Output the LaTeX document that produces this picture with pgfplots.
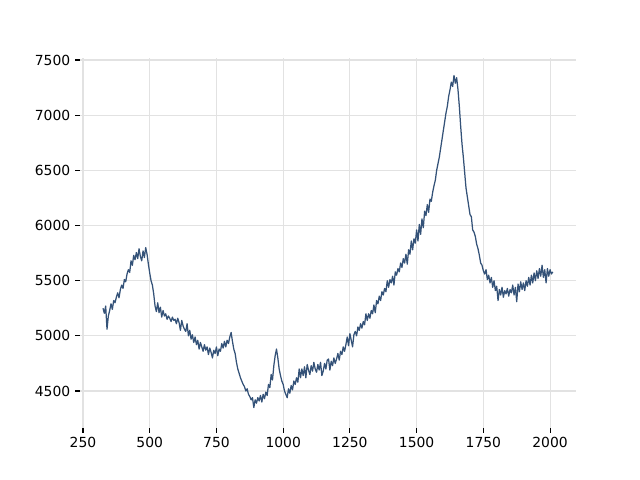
\documentclass[border=0pt]{standalone}
\usepackage{fontspec}
\setmainfont{DejaVu Sans}
\usepackage{pgfplots}
\pgfplotsset{compat=1.18}
\definecolor{linec}{RGB}{52,82,120}
\definecolor{gridc}{RGB}{226,226,226}
\begin{document}
\begin{tikzpicture}
\begin{axis}[name=ax,
  scale only axis, width=357.1pt, height=266.1pt,
  xmin=238.8, xmax=2097, ymin=4168, ymax=7518,
  xtick={250,500,...,2000}, ytick={4500,5000,...,7500},
  axis line style={draw=none},
  tick align=outside, tick pos=left,
  major tick length=3.5pt,
  tick style={black, line width=0.8pt},
  grid=major, major grid style={gridc, line width=0.8pt},
  /pgf/number format/assume math mode=true,
  /pgf/number format/set thousands separator={},
  tick label style={font=\fontsize{10}{12}\selectfont},
  clip=false,
]
\addplot[linec, line width=0.9pt, mark=none, line join=round] coordinates {
(325,5250)(330,5205)(335,5270)(340,5060)(345,5180)(350,5230)(355,5290)(360,5240)(365,5320)(370,5300)
(375,5350)(380,5390)(385,5345)(390,5420)(395,5460)(400,5430)(405,5510)(410,5490)(415,5560)(420,5600)
(425,5575)(430,5680)(435,5640)(440,5730)(445,5690)(450,5755)(455,5700)(460,5790)(465,5720)(470,5680)
(475,5770)(480,5710)(485,5800)(490,5740)(495,5650)(500,5570)(505,5500)(510,5460)(515,5380)(520,5270)
(525,5220)(530,5300)(535,5210)(540,5260)(545,5170)(550,5230)(555,5180)(560,5200)(565,5150)(570,5180)
(575,5160)(580,5130)(585,5170)(590,5140)(595,5150)(600,5110)(605,5160)(610,5120)(615,5050)(620,5140)
(625,5090)(630,5060)(635,5040)(640,5110)(645,5000)(650,5050)(655,4970)(660,5010)(665,4940)(670,4990)
(675,4920)(680,4960)(685,4880)(690,4940)(695,4900)(700,4860)(705,4920)(710,4870)(715,4900)(720,4830)
(725,4890)(730,4850)(735,4800)(740,4870)(745,4840)(750,4900)(755,4820)(760,4880)(765,4860)(770,4930)
(775,4890)(780,4950)(785,4900)(790,4960)(795,4930)(800,4990)(805,5030)(810,4950)(815,4880)(820,4840)
(825,4760)(830,4700)(835,4660)(840,4620)(845,4590)(850,4560)(855,4540)(860,4500)(865,4520)(870,4470)
(875,4450)(880,4420)(885,4440)(890,4350)(895,4420)(900,4390)(905,4440)(910,4410)(915,4460)(920,4400)
(925,4470)(930,4430)(935,4490)(940,4460)(945,4560)(950,4530)(955,4650)(960,4600)(965,4730)(970,4820)
(975,4880)(980,4800)(985,4700)(990,4640)(995,4590)(1000,4560)(1005,4500)(1010,4470)(1015,4440)(1020,4520)
(1025,4480)(1030,4550)(1035,4510)(1040,4590)(1045,4560)(1050,4620)(1055,4580)(1060,4700)(1065,4620)(1070,4700)
(1075,4640)(1080,4720)(1085,4620)(1090,4740)(1095,4690)(1100,4650)(1105,4730)(1110,4680)(1115,4760)(1120,4700)
(1125,4670)(1130,4740)(1135,4690)(1140,4760)(1145,4640)(1150,4680)(1155,4750)(1160,4700)(1165,4780)(1170,4790)
(1175,4690)(1180,4770)(1185,4730)(1190,4800)(1195,4750)(1200,4790)(1205,4840)(1210,4780)(1215,4860)(1220,4830)
(1225,4900)(1230,4860)(1235,4920)(1240,4990)(1245,4910)(1250,5020)(1255,4960)(1260,4900)(1265,5010)(1270,5040)
(1275,5000)(1280,5080)(1285,5050)(1290,5110)(1295,5070)(1300,5130)(1305,5100)(1310,5200)(1315,5140)(1320,5200)
(1325,5160)(1330,5230)(1335,5200)(1340,5280)(1345,5210)(1350,5320)(1355,5290)(1360,5360)(1365,5320)(1370,5400)
(1375,5370)(1380,5430)(1385,5400)(1390,5500)(1395,5440)(1400,5510)(1405,5480)(1410,5540)(1415,5460)(1420,5580)
(1425,5550)(1430,5610)(1435,5580)(1440,5660)(1445,5620)(1450,5700)(1455,5660)(1460,5740)(1465,5650)(1470,5780)
(1475,5740)(1480,5860)(1485,5780)(1490,5880)(1495,5840)(1500,5960)(1505,5860)(1510,6010)(1515,5920)(1520,6060)
(1525,5980)(1530,6130)(1535,6090)(1540,6190)(1545,6120)(1550,6240)(1555,6220)(1560,6300)(1565,6360)(1570,6410)
(1575,6500)(1580,6560)(1585,6620)(1590,6700)(1595,6780)(1600,6860)(1605,6940)(1610,7020)(1615,7080)(1620,7170)
(1625,7230)(1630,7300)(1635,7260)(1640,7360)(1645,7290)(1650,7340)(1655,7230)(1660,7080)(1665,6900)(1670,6740)
(1675,6620)(1680,6480)(1685,6340)(1690,6260)(1695,6180)(1700,6100)(1705,6080)(1710,5960)(1715,5940)(1720,5900)
(1725,5830)(1730,5790)(1735,5730)(1740,5660)(1745,5640)(1750,5590)(1755,5560)(1760,5600)(1765,5510)(1770,5550)
(1775,5480)(1780,5530)(1785,5440)(1790,5500)(1795,5410)(1800,5450)(1805,5320)(1810,5420)(1815,5370)(1820,5440)
(1825,5350)(1830,5410)(1835,5380)(1840,5430)(1845,5360)(1850,5420)(1855,5390)(1860,5460)(1865,5370)(1870,5440)
(1875,5310)(1880,5470)(1885,5400)(1890,5490)(1895,5420)(1900,5480)(1905,5410)(1910,5500)(1915,5450)(1920,5530)
(1925,5460)(1930,5550)(1935,5480)(1940,5570)(1945,5500)(1950,5590)(1955,5520)(1960,5610)(1965,5540)(1970,5640)
(1975,5530)(1980,5600)(1985,5480)(1990,5610)(1995,5540)(2000,5600)(2005,5560)(2010,5580)
};
\end{axis}
\path (ax.south west) ++(-57.6pt,-37.7pt) rectangle ++(460.8pt,345.6pt);
\end{tikzpicture}
\end{document}
